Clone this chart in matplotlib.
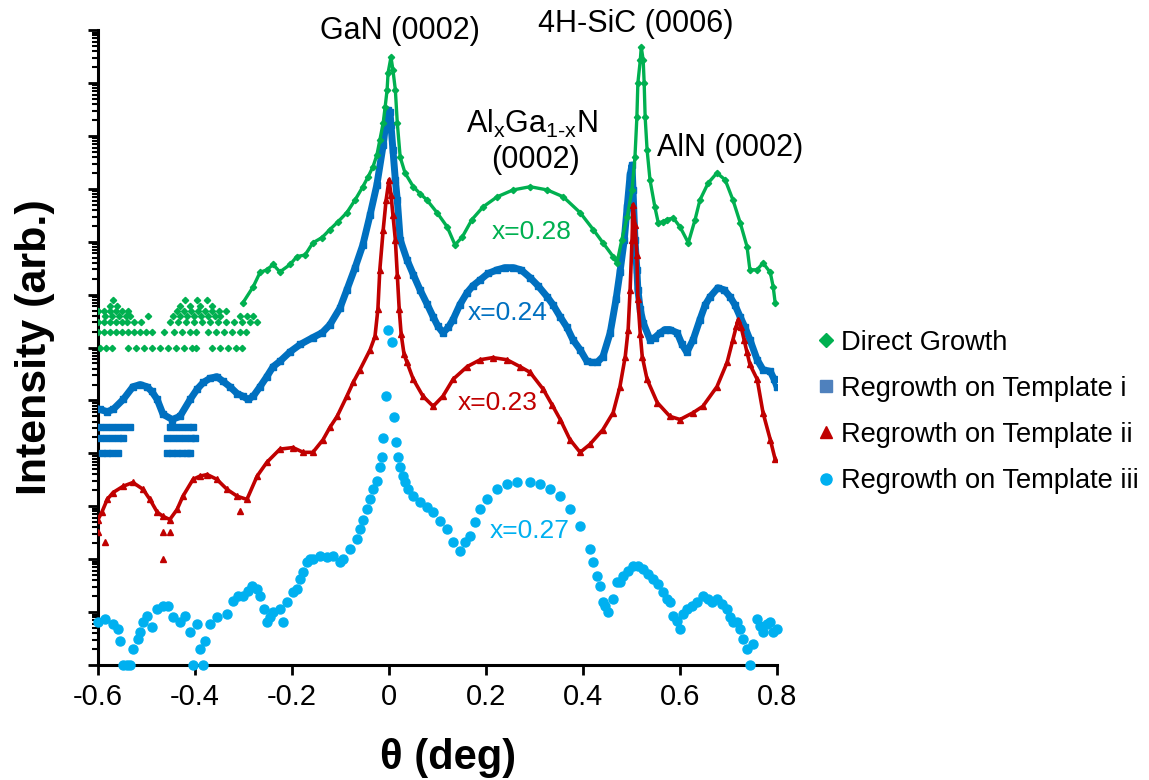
import numpy as np
import matplotlib.pyplot as plt
from matplotlib.lines import Line2D
from matplotlib.ticker import LogLocator, NullFormatter

plt.rcParams['font.family'] = ['Liberation Sans', 'DejaVu Sans']
plt.rcParams['mathtext.fontset'] = 'custom'
plt.rcParams['mathtext.rm'] = 'Liberation Sans'
plt.rcParams['mathtext.it'] = 'Liberation Sans'

# ---- data: theta (deg) and log10 intensity (arb.) ----
series_names = ['Direct Growth', 'Regrowth on Template i',
                'Regrowth on Template ii', 'Regrowth on Template iii']
x_labels = ['x=0.28', 'x=0.24', 'x=0.23', 'x=0.27']
xticks = [-0.6, -0.4, -0.2, 0.0, 0.2, 0.4, 0.6, 0.8]
xtick_labels = ['-0.6', '-0.4', '-0.2', '0', '0.2', '0.4', '0.6', '0.8']

green_theta = [-0.301, -0.280, -0.266, -0.252, -0.239, -0.225, -0.204, -0.190, -0.173, -0.157,
               -0.138, -0.122, -0.105, -0.087, -0.070, -0.054, -0.043, -0.033, -0.025, -0.019,
               -0.012, -0.008, -0.004, -0.002, 0.004, 0.008, 0.013, 0.017, 0.023, 0.033,
               0.050, 0.064, 0.078, 0.099, 0.120, 0.136, 0.151, 0.171, 0.194, 0.223,
               0.256, 0.291, 0.326, 0.359, 0.394, 0.421, 0.441, 0.462, 0.470, 0.480,
               0.491, 0.501, 0.507, 0.511, 0.513, 0.518, 0.520, 0.524, 0.526, 0.528,
               0.532, 0.538, 0.548, 0.555, 0.565, 0.573, 0.586, 0.600, 0.617, 0.631,
               0.641, 0.658, 0.676, 0.693, 0.709, 0.724, 0.738, 0.744, 0.759, 0.771,
               0.786, 0.792, 0.796]
green_log = [6.85, 7.15, 7.42, 7.47, 7.57, 7.43, 7.57, 7.72, 7.75, 7.98,
             8.08, 8.23, 8.38, 8.55, 8.79, 9.04, 9.23, 9.42, 9.64, 9.92,
             10.25, 10.55, 10.87, 11.19, 11.49, 11.25, 10.87, 10.25, 9.60, 9.30,
             9.04, 8.91, 8.79, 8.55, 8.28, 7.94, 8.09, 8.42, 8.66, 8.85,
             8.98, 9.04, 8.98, 8.85, 8.55, 8.23, 7.98, 7.72, 7.60, 8.04,
             8.47, 8.98, 9.60, 10.36, 11.00, 11.43, 11.68, 11.43, 11.00, 10.36,
             9.74, 9.17, 8.66, 8.36, 8.38, 8.42, 8.45, 8.28, 7.98, 8.42,
             8.79, 9.11, 9.30, 9.17, 8.79, 8.36, 7.91, 7.47, 7.47, 7.60,
             7.42, 7.15, 6.85]
# low-count background of the direct growth scan (one row per count level)
green_floor_levels = [6.00, 6.30, 6.48, 6.60, 6.70, 6.78, 6.90]
green_floor_thetas = [
    [-0.596, -0.584, -0.571, -0.538, -0.522, -0.505, -0.489, -0.472, -0.456, -0.439,
     -0.423, -0.406, -0.398, -0.365, -0.348, -0.332, -0.315, -0.303],
    [-0.600, -0.588, -0.575, -0.563, -0.551, -0.538, -0.526, -0.513, -0.501, -0.489,
     -0.464, -0.443, -0.427, -0.410, -0.398, -0.373, -0.357, -0.340, -0.324, -0.307, -0.295],
    [-0.600, -0.588, -0.575, -0.563, -0.551, -0.540, -0.526, -0.511, -0.452, -0.435,
     -0.419, -0.402, -0.386, -0.369, -0.353, -0.336, -0.320, -0.303, -0.287, -0.272],
    [-0.586, -0.571, -0.557, -0.542, -0.534, -0.497, -0.445, -0.431, -0.416, -0.402,
     -0.388, -0.373, -0.359, -0.348, -0.307, -0.293, -0.280],
    [-0.600, -0.588, -0.575, -0.563, -0.551, -0.538, -0.437, -0.423, -0.408, -0.394,
     -0.379, -0.365, -0.351, -0.336],
    [-0.575, -0.561, -0.431, -0.410, -0.390, -0.365],
    [-0.569, -0.421, -0.396, -0.375],
]

blue_theta = [-0.596, -0.581, -0.569, -0.548, -0.528, -0.513, -0.499, -0.489, -0.478, -0.466,
              -0.447, -0.431, -0.410, -0.396, -0.383, -0.369, -0.355, -0.342, -0.328, -0.313,
              -0.301, -0.291, -0.280, -0.266, -0.252, -0.239, -0.225, -0.204, -0.183, -0.157,
              -0.138, -0.122, -0.101, -0.087, -0.070, -0.054, -0.039, -0.025, -0.012, -0.006,
              -0.002, 0.002, 0.004, 0.008, 0.013, 0.017, 0.023, 0.037, 0.050, 0.064,
              0.078, 0.091, 0.101, 0.111, 0.122, 0.132, 0.146, 0.161, 0.173, 0.188,
              0.204, 0.223, 0.239, 0.256, 0.272, 0.291, 0.307, 0.326, 0.338, 0.353,
              0.367, 0.379, 0.394, 0.408, 0.419, 0.429, 0.441, 0.456, 0.468, 0.476,
              0.485, 0.491, 0.497, 0.501, 0.503, 0.507, 0.511, 0.513, 0.518, 0.524,
              0.538, 0.548, 0.559, 0.569, 0.579, 0.594, 0.604, 0.614, 0.627, 0.641,
              0.652, 0.662, 0.678, 0.691, 0.703, 0.713, 0.724, 0.734, 0.744, 0.759,
              0.771, 0.786, 0.794, 0.800]
blue_log = [4.83, 4.79, 4.83, 5.02, 5.26, 5.30, 5.26, 5.17, 5.02, 4.74,
            4.64, 4.70, 5.02, 5.21, 5.34, 5.42, 5.45, 5.36, 5.26, 5.13,
            5.08, 5.02, 5.08, 5.26, 5.45, 5.64, 5.74, 5.92, 6.06, 6.19,
            6.28, 6.43, 6.75, 7.09, 7.51, 7.94, 8.51, 9.08, 9.83, 10.30,
            10.49, 10.45, 10.21, 9.74, 9.17, 8.79, 8.04, 7.66, 7.38, 7.09,
            6.83, 6.58, 6.40, 6.28, 6.38, 6.53, 6.81, 7.04, 7.17, 7.28,
            7.40, 7.47, 7.51, 7.51, 7.47, 7.32, 7.17, 6.96, 6.81, 6.58,
            6.38, 6.15, 5.96, 5.74, 5.72, 5.72, 5.83, 6.28, 6.91, 7.42,
            8.04, 8.66, 9.26, 9.45, 8.98, 8.04, 7.47, 7.09, 6.72, 6.47,
            6.15, 6.19, 6.28, 6.34, 6.34, 6.28, 6.06, 5.91, 6.15, 6.53,
            6.81, 6.96, 7.13, 7.09, 6.96, 6.81, 6.58, 6.38, 6.15, 5.77,
            5.58, 5.55, 5.40, 5.26]
blue_floor_levels = [4.00, 4.30, 4.49]
blue_floor_thetas = [
    [-0.592, -0.581, -0.571, -0.559, -0.458, -0.447, -0.437, -0.427, -0.416, -0.410],
    [-0.596, -0.584, -0.571, -0.559, -0.548, -0.458, -0.445, -0.433, -0.421, -0.408, -0.400],
    [-0.596, -0.584, -0.571, -0.559, -0.546, -0.534, -0.452, -0.439, -0.427, -0.414, -0.404],
]

red_theta = [-0.600, -0.592, -0.581, -0.569, -0.548, -0.528, -0.507, -0.493, -0.478, -0.466,
             -0.452, -0.437, -0.425, -0.404, -0.390, -0.375, -0.355, -0.334, -0.313, -0.293,
             -0.272, -0.252, -0.225, -0.198, -0.177, -0.157, -0.136, -0.122, -0.107, -0.087,
             -0.074, -0.060, -0.039, -0.029, -0.023, -0.019, -0.012, -0.006, 0.000, 0.004,
             0.008, 0.013, 0.017, 0.021, 0.025, 0.031, 0.037, 0.050, 0.070, 0.091,
             0.111, 0.132, 0.161, 0.188, 0.214, 0.243, 0.270, 0.291, 0.318, 0.336,
             0.353, 0.373, 0.394, 0.414, 0.441, 0.462, 0.476, 0.487, 0.493, 0.497,
             0.501, 0.503, 0.507, 0.511, 0.513, 0.518, 0.522, 0.532, 0.553, 0.579,
             0.600, 0.627, 0.647, 0.676, 0.697, 0.709, 0.716, 0.720, 0.726, 0.732,
             0.738, 0.744, 0.759, 0.771, 0.786, 0.796]
red_log = [2.75, 2.89, 3.13, 3.26, 3.38, 3.45, 3.32, 3.13, 2.89, 2.81,
           2.75, 2.94, 3.19, 3.51, 3.57, 3.60, 3.51, 3.32, 3.19, 3.13,
           3.57, 3.83, 4.08, 4.11, 4.02, 4.02, 4.26, 4.49, 4.70, 5.08,
           5.34, 5.58, 5.96, 6.21, 6.72, 7.47, 8.23, 8.79, 9.17, 8.89,
           8.51, 8.04, 7.38, 6.72, 6.25, 5.87, 5.72, 5.40, 5.08, 4.89,
           5.08, 5.40, 5.64, 5.77, 5.81, 5.77, 5.64, 5.53, 5.21, 4.92,
           4.64, 4.26, 4.02, 4.17, 4.45, 4.77, 5.26, 5.83, 6.34, 7.09,
           8.04, 8.70, 8.32, 7.75, 6.91, 6.25, 5.83, 5.40, 4.96, 4.70,
           4.64, 4.77, 4.89, 5.26, 5.72, 6.15, 6.40, 6.53, 6.38, 6.15,
           5.91, 5.68, 5.40, 4.77, 4.26, 3.89]
red_extra_theta = [-0.600, -0.586, -0.466, -0.452, -0.466, -0.307]
red_extra_log = [2.51, 2.32, 2.51, 2.51, 2.00, 2.91]

cyan_theta = [-0.600, -0.586, -0.569, -0.559, -0.555, -0.548, -0.540, -0.534, -0.528, -0.518,
              -0.513, -0.507, -0.499, -0.489, -0.478, -0.466, -0.456, -0.445, -0.431, -0.421,
              -0.410, -0.404, -0.396, -0.390, -0.383, -0.379, -0.369, -0.355, -0.334, -0.322,
              -0.311, -0.301, -0.291, -0.282, -0.272, -0.266, -0.258, -0.252, -0.246, -0.239,
              -0.225, -0.219, -0.210, -0.198, -0.190, -0.183, -0.177, -0.169, -0.163, -0.157,
              -0.142, -0.128, -0.115, -0.101, -0.095, -0.080, -0.066, -0.060, -0.054, -0.045,
              -0.039, -0.033, -0.025, -0.019, -0.014, -0.012, -0.006, -0.002, 0.006, 0.010,
              0.014, 0.019, 0.023, 0.029, 0.033, 0.039, 0.050, 0.064, 0.078, 0.091,
              0.105, 0.120, 0.132, 0.146, 0.157, 0.167, 0.177, 0.188, 0.202, 0.223,
              0.243, 0.264, 0.291, 0.311, 0.332, 0.353, 0.373, 0.394, 0.414, 0.421,
              0.429, 0.435, 0.441, 0.445, 0.452, 0.462, 0.470, 0.476, 0.482, 0.493,
              0.503, 0.513, 0.524, 0.534, 0.544, 0.555, 0.565, 0.573, 0.579, 0.586,
              0.594, 0.600, 0.606, 0.614, 0.625, 0.635, 0.647, 0.658, 0.666, 0.676,
              0.687, 0.697, 0.703, 0.709, 0.718, 0.724, 0.730, 0.738, 0.744, 0.751,
              0.759, 0.765, 0.771, 0.779, 0.786, 0.792, 0.800]
cyan_log = [0.81, 0.87, 0.77, 0.68, 0.45, 0.00, 0.00, 0.00, 0.30, 0.49,
            0.62, 0.81, 0.92, 0.72, 1.06, 1.11, 1.11, 0.91, 0.81, 0.92,
            0.62, 0.00, 0.77, 0.30, 0.00, 0.45, 0.77, 0.91, 0.96, 1.21,
            1.30, 1.30, 1.40, 1.49, 1.43, 1.30, 1.06, 0.81, 0.91, 1.00,
            1.06, 0.81, 1.19, 1.38, 1.43, 1.62, 1.75, 1.94, 2.00, 2.00,
            2.06, 2.04, 2.06, 1.94, 2.00, 2.19, 2.38, 2.57, 2.75, 2.94,
            3.13, 3.32, 3.47, 3.75, 3.94, 4.30, 5.08, 6.34, 6.11, 4.68,
            4.21, 3.94, 3.75, 3.57, 3.45, 3.32, 3.19, 3.08, 2.98, 2.89,
            2.72, 2.57, 2.32, 2.15, 2.32, 2.43, 2.70, 2.94, 3.13, 3.32,
            3.42, 3.45, 3.45, 3.42, 3.32, 3.19, 2.94, 2.62, 2.19, 1.94,
            1.68, 1.49, 1.19, 1.11, 1.00, 1.25, 1.57, 1.57, 1.68, 1.77,
            1.87, 1.87, 1.81, 1.72, 1.62, 1.53, 1.38, 1.25, 1.19, 0.92,
            0.83, 0.68, 0.96, 1.06, 1.11, 1.19, 1.30, 1.25, 1.19, 1.25,
            1.15, 1.06, 0.91, 0.81, 0.81, 0.68, 0.49, 0.30, 0.00, 0.40,
            0.87, 0.74, 0.62, 0.77, 0.81, 0.62, 0.68]

GREEN = '#00B050'
BLUE = '#0070C0'
RED = '#C00000'
CYAN = '#00B0F0'


def inten(v):
    return 10.0 ** np.asarray(v)


fig = plt.figure(figsize=(11.49, 7.80), dpi=100)
ax = fig.add_axes([0.0853, 0.1474, 0.591, 0.814])

# direct growth
ax.plot(green_theta, inten(green_log), color=GREEN, marker='D', ms=3.2, lw=2.4,
        zorder=4, clip_on=False)
for lev, th in zip(green_floor_levels, green_floor_thetas):
    ax.plot(th, inten([lev] * len(th)), color=GREEN, marker='D', ms=3.2, ls='none', zorder=4)

# template i
ax.plot(blue_theta, inten(blue_log), color=BLUE, marker='s', ms=5, lw=5, zorder=3)
for lev, th in zip(blue_floor_levels, blue_floor_thetas):
    ax.plot(th, inten([lev] * len(th)), color=BLUE, marker='s', ms=4.5, ls='none', zorder=3)

# template ii
ax.plot(red_theta, inten(red_log), color=RED, marker='^', ms=4, lw=2.6, zorder=5)
ax.plot(red_extra_theta, inten(red_extra_log), color=RED, marker='^', ms=4, ls='none', zorder=5)

# template iii
ax.plot(cyan_theta, inten(cyan_log), color=CYAN, marker='o', ms=6.5, ls='none',
        zorder=6, clip_on=False)

ax.set_yscale('log')
ax.set_xlim(-0.6, 0.8)
ax.set_ylim(1, 1e12)
ax.set_xticks(xticks)
ax.set_xticklabels(xtick_labels, fontsize=21)
ax.yaxis.set_major_locator(LogLocator(base=10, numticks=20))
ax.yaxis.set_minor_locator(LogLocator(base=10, subs=np.arange(2, 10), numticks=20))
ax.yaxis.set_major_formatter(NullFormatter())
ax.yaxis.set_minor_formatter(NullFormatter())
ax.tick_params(axis='y', which='major', direction='out', length=7.5, width=2)
ax.tick_params(axis='y', which='minor', direction='out', length=4.5, width=1.5)
ax.tick_params(axis='x', which='major', direction='out', length=7, width=2, pad=6)
ax.tick_params(axis='x', which='minor', bottom=False)
for s in ['top', 'right']:
    ax.spines[s].set_visible(False)
for s in ['left', 'bottom']:
    ax.spines[s].set_linewidth(2.2)

ax.set_xlabel('θ (deg)', fontsize=30, fontweight='bold')
ax.xaxis.set_label_coords(0.515, -0.115)
ax.set_ylabel('Intensity (arb.)', fontsize=31, fontweight='bold', labelpad=20)

# peak labels
ax.text(0.023, inten(11.98), 'GaN (0002)', fontsize=22, ha='center', va='center')
ax.text(0.509, inten(12.11), '4H-SiC (0006)', fontsize=22, ha='center', va='center')
ax.text(0.295, inten(10.23), r'Al$_\mathregular{x}$Ga$_\mathregular{1\text{-}x}$N',
        fontsize=22, ha='center', va='center')
ax.text(0.301, inten(9.55), '(0002)', fontsize=22, ha='center', va='center')
ax.text(0.703, inten(9.77), 'AlN (0002)', fontsize=22, ha='center', va='center')

# composition labels
ax.text(0.293, inten(8.19), x_labels[0], color=GREEN, fontsize=19, ha='center', va='center')
ax.text(0.245, inten(6.66), x_labels[1], color=BLUE, fontsize=19, ha='center', va='center')
ax.text(0.223, inten(4.96), x_labels[2], color=RED, fontsize=19, ha='center', va='center')
ax.text(0.291, inten(2.53), x_labels[3], color=CYAN, fontsize=19, ha='center', va='center')

handles = [
    Line2D([], [], color=GREEN, marker='D', ms=7, ls='none'),
    Line2D([], [], color='#4F81BD', marker='s', ms=8, ls='none'),
    Line2D([], [], color=RED, marker='^', ms=9, ls='none'),
    Line2D([], [], color=CYAN, marker='o', ms=8, ls='none'),
]
fig.legend(handles, series_names, loc='center left', bbox_to_anchor=(0.712, 0.472),
           frameon=False, fontsize=19.6, handlelength=0.6, handletextpad=0.25,
           labelspacing=0.74, borderpad=0, borderaxespad=0)

fig.savefig('out.png', dpi=100)
